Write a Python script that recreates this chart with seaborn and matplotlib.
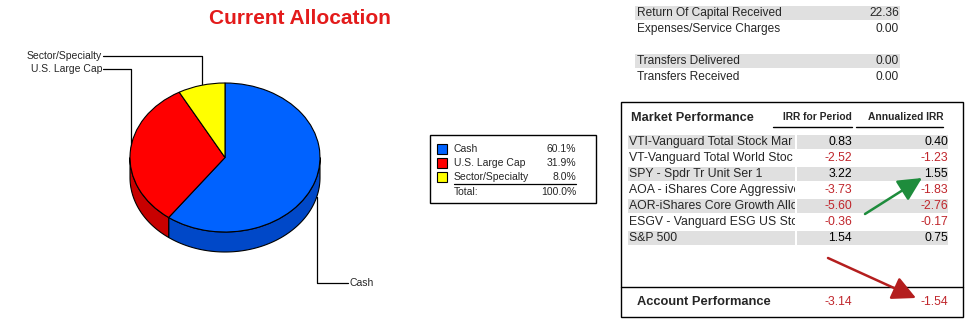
import numpy as np
import matplotlib
matplotlib.use("Agg")
import matplotlib.pyplot as plt
import seaborn as sns
from matplotlib.patches import Rectangle, Polygon
from matplotlib.transforms import Bbox

# ---------------- data ----------------
alloc_labels = ["Cash", "U.S. Large Cap", "Sector/Specialty"]
alloc_pct = [60.1, 31.9, 8.0]

summary_group1 = ["Return Of Capital Received", "Expenses/Service Charges"]
summary_values1 = [22.36, 0.00]
summary_group2 = ["Transfers Delivered", "Transfers Received"]
summary_values2 = [0.00, 0.00]

# names as they appear (cut off by the column width)
perf_names = ["VTI-Vanguard Total Stock Mar",
              "VT-Vanguard Total World Stoc",
              "SPY - Spdr Tr Unit Ser 1",
              "AOA - iShares Core Aggressive",
              "AOR-iShares Core Growth Alloc",
              "ESGV - Vanguard ESG US Stoc",
              "S&P 500"]
irr_period = [0.83, -2.52, 3.22, -3.73, -5.60, -0.36, 1.54]
irr_annual = [0.40, -1.23, 1.55, -1.83, -2.76, -0.17, 0.75]
account_period = -3.14
account_annual = -1.54

# ---------------- style ----------------
sns.set_theme(style="white")
plt.rcParams["font.family"] = ["Liberation Sans", "DejaVu Sans"]

top_colors = ["#0062FF", "#FF0000", "#FFFF00"]
side_colors = ["#0048C8", "#C80000", "#C8C800"]
neg_color = "#C0262C"
band = "#E0E0E0"

W, H = 973, 324
fig = plt.figure(figsize=(W / 100, H / 100), dpi=100)
ax = fig.add_axes([0, 0, 1, 1])
ax.set_xlim(0, W)
ax.set_ylim(H, 0)
ax.axis("off")

# ---------------- title ----------------
ax.text(300, 19, "Current Allocation", color="#E31B1B", fontsize=15,
        fontweight="bold", ha="center", va="center")

# ---------------- 3D pie ----------------
cx, cy, rx, ry, depth = 225, 157.5, 95, 74.5, 20
pax = fig.add_axes([(cx - 1.5 * rx) / W, (H - cy - 1.5 * ry) / H,
                    3 * rx / W, 3 * ry / H])
pax.patch.set_alpha(0)
wedges, _ = pax.pie(alloc_pct, colors=top_colors, startangle=90,
                    counterclock=False,
                    wedgeprops=dict(edgecolor="black", linewidth=0.8))
pax.set_aspect("auto")
pax.set_xlim(-1.5, 1.5)
pax.set_ylim(-1.5, 1.5)
pax.axis("off")
d = depth / ry
for w, sc in zip(wedges, side_colors):
    a, b = w.theta1, w.theta2
    for k in range(-3, 3):
        lo = max(a, 180 + 360 * k)
        hi = min(b, 360 + 360 * k)
        if hi > lo:
            t = np.radians(np.linspace(lo, hi, 120))
            xs, ys = np.cos(t), np.sin(t)
            poly = np.column_stack([np.r_[xs, xs[::-1]],
                                    np.r_[ys, ys[::-1] - d]])
            pax.add_patch(Polygon(poly, closed=True, facecolor=sc,
                                  edgecolor="black", lw=0.8, zorder=0))

# leader lines + labels
lab_fs = 7.5
ax.plot([103, 202, 202], [56, 56, 84], color="black", lw=0.9)
ax.text(102, 56, alloc_labels[2], ha="right", va="center", fontsize=lab_fs)
ax.plot([103, 131, 131], [69, 69, 150], color="black", lw=0.9)
ax.text(102, 69, alloc_labels[1], ha="right", va="center", fontsize=lab_fs)
ax.plot([317, 317, 348], [197, 283, 283], color="black", lw=0.9)
ax.text(349, 283, alloc_labels[0], ha="left", va="center", fontsize=lab_fs)

# ---------------- legend box ----------------
ax.add_patch(Rectangle((430, 135), 166, 68, facecolor="white",
                       edgecolor="black", lw=1))
ly = [149, 163, 177]
for y, lab, v, c in zip(ly, alloc_labels, alloc_pct, top_colors):
    ax.add_patch(Rectangle((437, y - 5), 10, 10, facecolor=c,
                           edgecolor="black", lw=0.8))
    ax.text(454, y, lab, ha="left", va="center", fontsize=lab_fs)
    ax.text(576, y, f"{v:.1f}%", ha="right", va="center", fontsize=lab_fs)
ax.plot([454, 576], [184, 184], color="black", lw=0.9)
ax.text(454, 192, "Total:", ha="left", va="center", fontsize=lab_fs)
ax.text(576, 192, f"{sum(alloc_pct):.1f}%", ha="right", va="center",
        fontsize=lab_fs)

# ---------------- summary table ----------------
sum_fs = 8.6
rows_y = [[13, 29], [61, 77]]
for ys, labs, vals in zip(rows_y, [summary_group1, summary_group2],
                          [summary_values1, summary_values2]):
    ax.add_patch(Rectangle((635, ys[0] - 7), 265, 14, facecolor=band,
                           edgecolor="none"))
    for y, lab, v in zip(ys, labs, vals):
        ax.text(637, y, lab, ha="left", va="center", fontsize=sum_fs)
        ax.text(899, y, f"{v:.2f}", ha="right", va="center", fontsize=sum_fs)

# ---------------- market performance box ----------------
ax.add_patch(Rectangle((621, 102), 342, 215, facecolor="none",
                       edgecolor="black", lw=1))
ax.plot([621, 963], [287, 287], color="black", lw=1)
ax.text(631, 118, "Market Performance", fontsize=9.2, fontweight="bold",
        ha="left", va="center")
ax.text(852, 117, "IRR for Period", fontsize=7.4, fontweight="bold",
        ha="right", va="center")
ax.text(943, 117, "Annualized IRR", fontsize=7.4, fontweight="bold",
        ha="right", va="center")
ax.plot([773, 852], [127, 127], color="black", lw=1)
ax.plot([856, 943], [127, 127], color="black", lw=1)

tab_fs = 8.8
clip = Bbox.from_extents(628, 0, 795, H)
for i, (nm, p, a) in enumerate(zip(perf_names, irr_period, irr_annual)):
    y = 141.7 + 16 * i
    if i % 2 == 0:
        ax.add_patch(Rectangle((628, y - 7), 167, 14, facecolor=band,
                               edgecolor="none"))
        ax.add_patch(Rectangle((797, y - 7), 151, 14, facecolor=band,
                               edgecolor="none"))
    t = ax.text(629, y, nm, ha="left", va="center", fontsize=tab_fs)
    t.set_clip_box(clip)
    t.set_clip_on(True)
    ax.text(852, y, f"{p:.2f}", ha="right", va="center", fontsize=tab_fs,
            color=neg_color if p < 0 else "black")
    ax.text(948, y, f"{a:.2f}", ha="right", va="center", fontsize=tab_fs,
            color=neg_color if a < 0 else "black")

ax.text(637, 302, "Account Performance", fontsize=9.3, fontweight="bold",
        ha="left", va="center")
ax.text(852, 302, f"{account_period:.2f}", ha="right", va="center",
        fontsize=tab_fs, color=neg_color)
ax.text(948, 302, f"{account_annual:.2f}", ha="right", va="center",
        fontsize=tab_fs, color=neg_color)

# arrows
ax.annotate("", xy=(922, 178), xytext=(865, 214),
            arrowprops=dict(arrowstyle="-|>,head_length=0.9,head_width=0.45",
                            color="#1E8C3C", lw=1.8, mutation_scale=16,
                            shrinkA=0, shrinkB=0))
ax.annotate("", xy=(916, 298), xytext=(828, 258),
            arrowprops=dict(arrowstyle="-|>,head_length=0.9,head_width=0.45",
                            color="#B41E1E", lw=1.8, mutation_scale=16,
                            shrinkA=0, shrinkB=0))

fig.savefig("out.png", dpi=100)
